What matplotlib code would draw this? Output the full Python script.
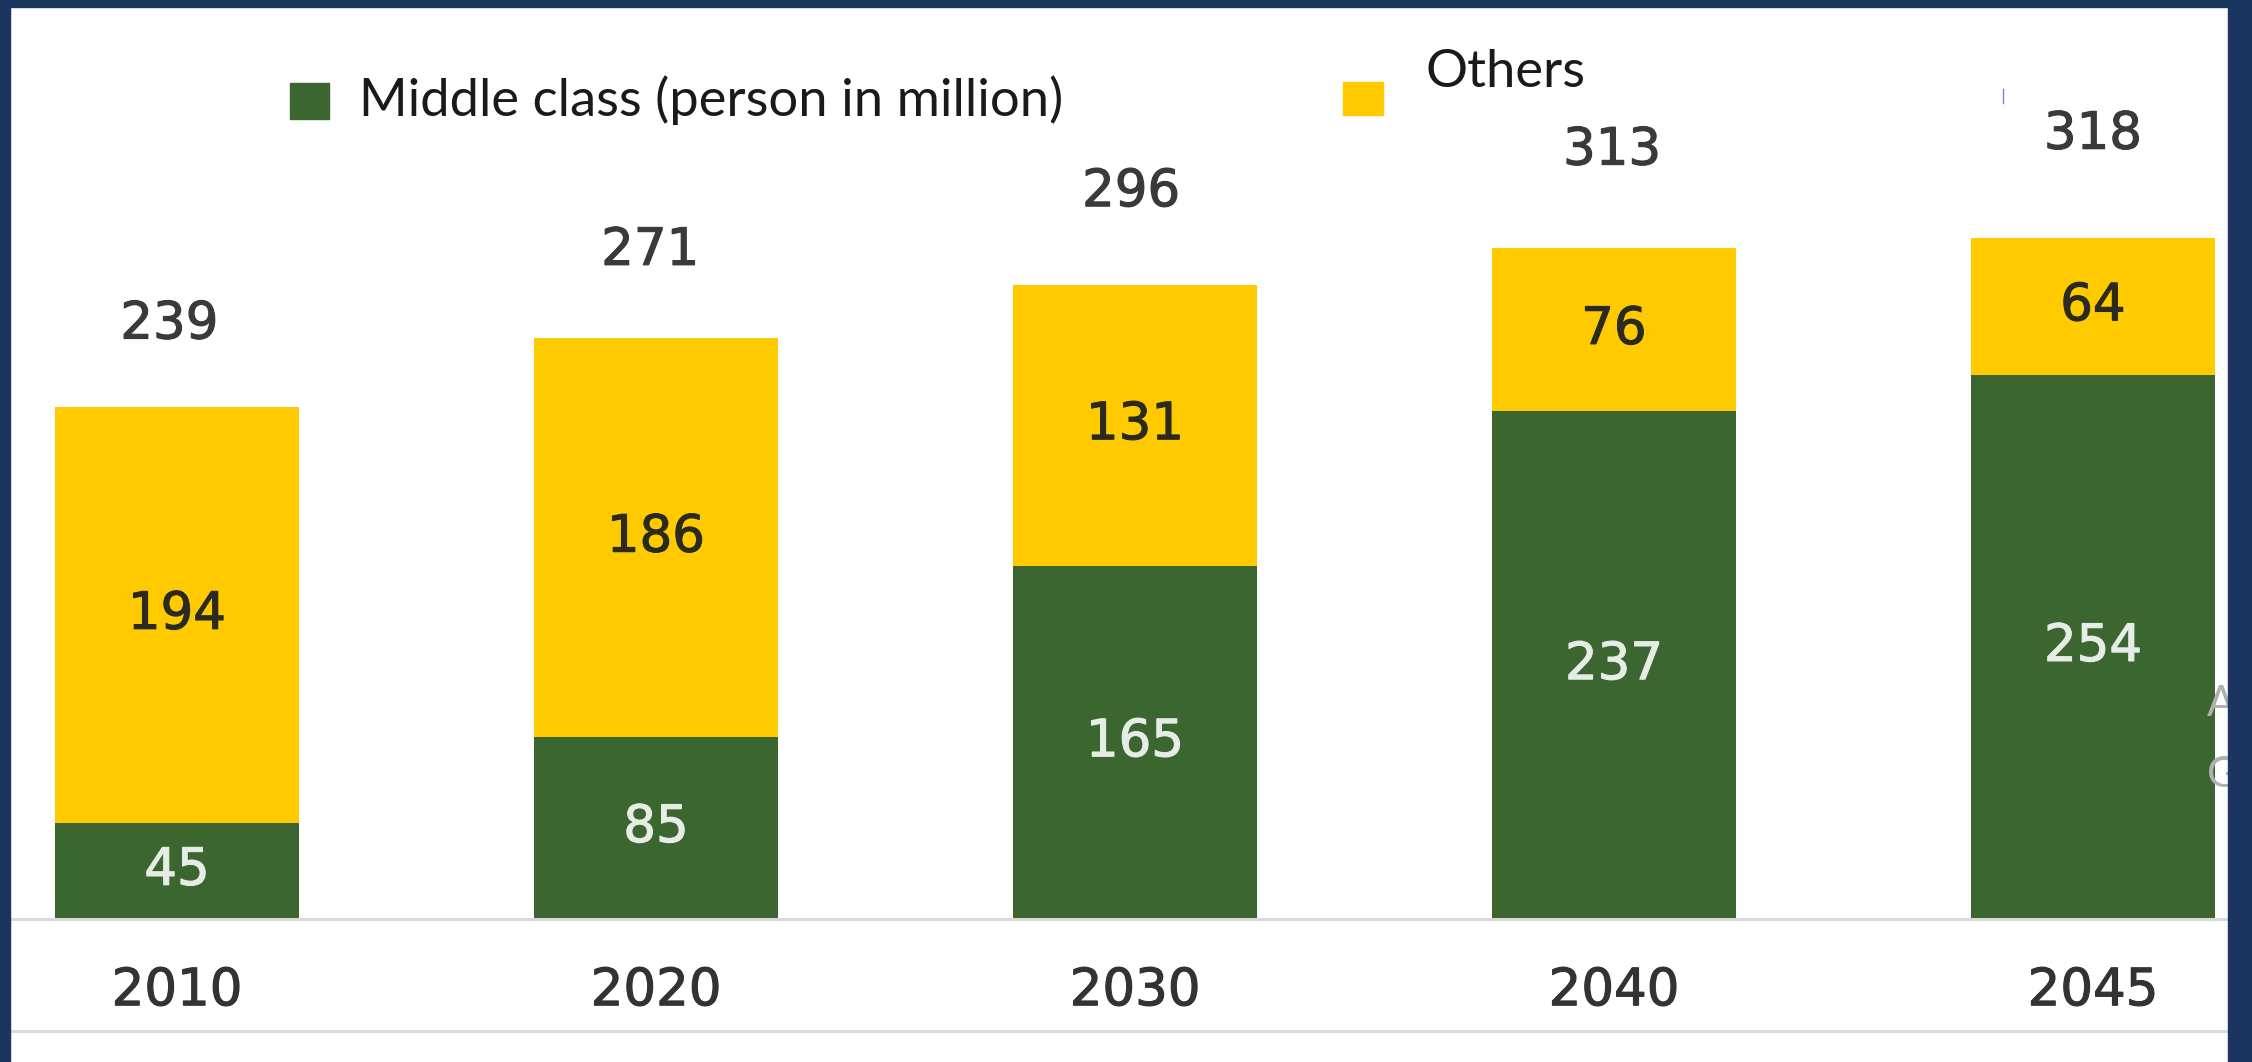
import matplotlib.pyplot as plt
import matplotlib.patheffects as pe
from matplotlib.patches import Rectangle
from matplotlib.lines import Line2D

# data
years = ['2010', '2020', '2030', '2040', '2045']
middle_class = [45, 85, 165, 237, 254]
others = [194, 186, 131, 76, 64]
totals = [239, 271, 296, 313, 318]

green = '#3c6630'
yellow = '#ffcb00'
navy = '#1a365f'
W, H = 2252, 1062

fig = plt.figure(figsize=(W / 100, H / 100), dpi=100)
fig.patch.set_facecolor('white')

# axes spans full width, baseline at 919 px from top
ax = fig.add_axes([0, 143 / H, 1, 919 / H])
x = range(len(years))
ax.bar(x, middle_class, width=0.51, color=green, zorder=2)
ax.bar(x, others, width=0.51, bottom=middle_class, color=yellow, zorder=2)

ax.set_xlim(-0.3695, 4.332)
ax.set_ylim(0, 429)


def thick(c):
    return [pe.withStroke(linewidth=0.8, foreground=c)]


for i in x:
    ax.text(i, middle_class[i] / 2, str(middle_class[i]), ha='center', va='center',
            fontsize=37, color='#e6ece6', path_effects=thick('#e6ece6'))
    ax.text(i, middle_class[i] + others[i] / 2, str(others[i]), ha='center', va='center',
            fontsize=37, color='#2a2a1e', path_effects=thick('#2a2a1e'))
    ax.text(i - 0.004 * (4 - i), totals[i] + 38.5 + 2.4 * i, str(totals[i]), ha='center',
            va='center', fontsize=37, color='#3a3a3a', path_effects=thick('#3a3a3a'))

ax.set_xticks(list(x))
ax.set_xticklabels(years, fontsize=37, color='#333333', path_effects=thick('#333333'))
ax.tick_params(axis='x', length=0, pad=34)
ax.set_yticks([])
for s in ['top', 'left', 'right']:
    ax.spines[s].set_visible(False)
ax.spines['bottom'].set_color('#d9d9d9')
ax.spines['bottom'].set_linewidth(2.2)

# lower grey rule
fig.add_artist(Line2D([0, 1], [31 / H, 31 / H], color='#dcdcdc', linewidth=2.2))

# legend, drawn by hand
fig.add_artist(Rectangle((290 / W, 1 - 119 / H), 39 / W, 36 / H, color=green))
fig.text(359 / W, 1 - 100 / H, 'Middle class (person in million)', family='Lato',
         fontsize=37.8, color='#1a1a1a', va='center', ha='left')
fig.add_artist(Rectangle((1343 / W, 1 - 115 / H), 40 / W, 33 / H, color=yellow))
fig.text(1426 / W, 1 - 73 / H, 'Others', family='Lato',
         fontsize=37.8, color='#1a1a1a', va='center', ha='left')
fig.add_artist(Line2D([2003 / W, 2003 / W], [1 - 103 / H, 1 - 89 / H], color='#6a8cc0', linewidth=1))

# cut-off grey text at the right edge
fig.text(2207 / W, 1 - 704 / H, 'A', family='Lato', fontsize=30, color='#b0b0b0', va='center')
fig.text(2207 / W, 1 - 775 / H, 'G', family='Lato', fontsize=30, color='#b0b0b0', va='center')

# navy frame
for r in [(0, 0, 10 / W, 1), (0, 1 - 7 / H, 1, 7 / H), (2228 / W, 0, 1 - 2228 / W, 1)]:
    fig.add_artist(Rectangle(r[:2], r[2], r[3], color=navy, zorder=20))

fig.savefig('out.png', dpi=100, facecolor=fig.get_facecolor())
